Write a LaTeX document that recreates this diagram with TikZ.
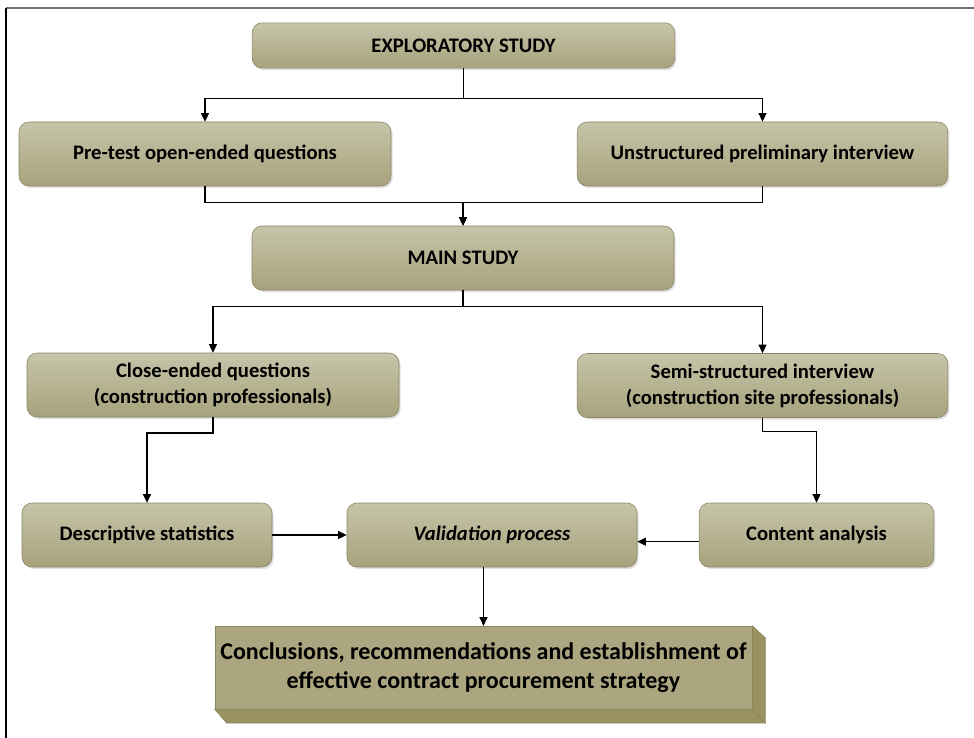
\documentclass[tikz,border=0pt]{standalone}
\usepackage{fontspec}
\setmainfont{Carlito}
\usetikzlibrary{arrows.meta,shadows,calc}

\definecolor{olivetop}{RGB}{198,197,169}
\definecolor{olivebot}{RGB}{167,162,124}
\definecolor{oliveline}{RGB}{136,132,98}
\definecolor{olivefront}{RGB}{171,166,128}
\definecolor{olivedark}{RGB}{152,147,97}
\definecolor{framegray}{RGB}{112,112,112}

\begin{document}
\begin{tikzpicture}[x=0.75pt,y=-0.75pt,>={Triangle[length=6.5pt,width=6pt]},
   stage/.style={draw=oliveline,rounded corners=7.5pt,top color=olivetop,bottom color=olivebot,
     minimum height=48pt,align=center,font=\fontsize{15.5}{19.5}\selectfont\bfseries,
     drop shadow={shadow xshift=1.2pt,shadow yshift=-1.5pt,opacity=.25}},
   link/.style={->,line width=0.9pt}]
  \useasboundingbox (0,0) rectangle (974,738);
  % frame
  \draw[framegray,line width=1.8pt] (6,8) -- (974,8);
  \draw[line width=1.2pt] (6,8) -- (6,738);

  % exploratory part
  \node[stage,minimum width=317pt,minimum height=34pt] (explore) at (463.5,45.5) {EXPLORATORY STUDY};
  \node[stage,minimum width=279pt] (pretest) at (205,154) {Pre-test open-ended questions};
  \node[stage,minimum width=278pt] (unstruct) at (762.5,154) {Unstructured preliminary interview};

  % main part
  \node[stage,minimum width=316.5pt] (main) at (463,258) {MAIN STUDY};
  \node[stage,minimum width=279pt] (close) at (213,385) {Close-ended questions\\(construction professionals)};
  \node[stage,minimum width=278pt] (semi) at (762.5,385.5) {Semi-structured interview\\(construction site professionals)};

  % analysis
  \node[stage,minimum width=187.5pt] (descr) at (147,535) {Descriptive statistics};
  \node[stage,minimum width=217.5pt,font=\fontsize{15.5}{19.5}\selectfont\bfseries\itshape] (valid) at (492,535) {Validation process};
  \node[stage,minimum width=176pt] (content) at (816.5,535) {Content analysis};

  % outcome block
  \node[draw=oliveline,fill=olivefront,minimum width=403pt,minimum height=62pt,align=center,
    font=\fontsize{18}{21.75}\selectfont\bfseries] (concl) at (483.5,667.5)
    {Conclusions, recommendations and establishment of\\effective contract procurement strategy};
  \filldraw[fill=olivedark,draw=oliveline] (concl.north east) -- ([shift={(13,12)}]concl.north east)
    -- ([shift={(13,14)}]concl.south east) -- (concl.south east) -- cycle;
  \filldraw[fill=olivedark,draw=oliveline] (concl.south west) -- (concl.south east)
    -- ([shift={(13,14)}]concl.south east) -- ([shift={(12,14)}]concl.south west) -- cycle;

  % connectors
  \draw[link] (explore.south) -- ++(0,30) -| (pretest.north);
  \draw[link] (explore.south) -- ++(0,30) -| (unstruct.north);
  \draw[link] (pretest.south) -- ++(0,16) -| (main.north);
  \draw[link] (unstruct.south) -- ++(0,16) -| (main.north);
  \draw[link] (main.south) -- ++(0,16) -| (close.north);
  \draw[link] (main.south) -- ++(0,16) -| (semi.north);
  \draw[link,line width=1.5pt] (close.south) -- ++(0,16) -| (descr.north);
  \draw[link] (semi.south) -- ++(0,14) -| (content.north);
  \draw[link] (descr) -- (valid);
  \draw[link] ([yshift=-5pt]content.west) -- ([yshift=-5pt]valid.east);
  \draw[link] (valid.south -| concl.north) -- (concl.north);
\end{tikzpicture}
\end{document}
